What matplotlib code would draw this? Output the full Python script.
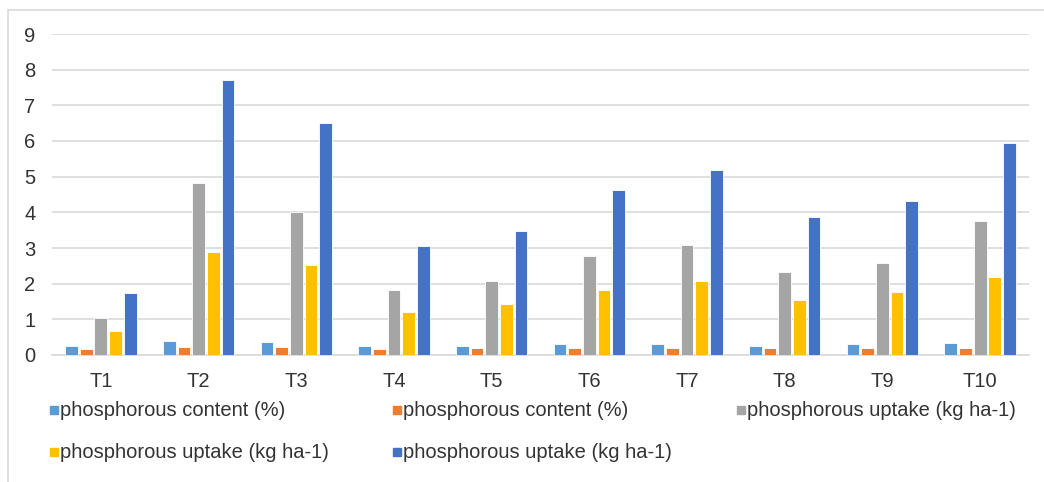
import matplotlib.pyplot as plt
from matplotlib.patches import Rectangle
import numpy as np

plt.rcParams['font.family'] = ['Liberation Sans', 'DejaVu Sans']

# datos
treatments = ['T1', 'T2', 'T3', 'T4', 'T5', 'T6', 'T7', 'T8', 'T9', 'T10']
series_names = ['phosphorous content (%)', 'phosphorous content (%)',
                'phosphorous uptake (kg ha-1)', 'phosphorous uptake (kg ha-1)',
                'phosphorous uptake (kg ha-1)']
content_a = [0.26, 0.40, 0.36, 0.26, 0.26, 0.30, 0.30, 0.26, 0.30, 0.34]
content_b = [0.16, 0.22, 0.22, 0.16, 0.20, 0.20, 0.20, 0.20, 0.20, 0.20]
uptake_a = [1.03, 4.83, 4.00, 1.83, 2.07, 2.77, 3.08, 2.32, 2.57, 3.75]
uptake_b = [0.68, 2.88, 2.53, 1.20, 1.42, 1.83, 2.07, 1.55, 1.76, 2.18]
uptake_c = [1.74, 7.72, 6.50, 3.05, 3.47, 4.62, 5.18, 3.86, 4.31, 5.94]
colors = ['#5B9BD5', '#ED7D31', '#A5A5A5', '#FFC000', '#4472C4']

all_series = [content_a, content_b, uptake_a, uptake_b, uptake_c]

fig = plt.figure(figsize=(10.44, 4.82), dpi=100)
ax = fig.add_axes([52/1044, 1-355/482, 977/1044, 321/482])

# marco exterior
fig.patches.append(Rectangle((8/1044, -0.02), 1.0, 1-10/482+0.02,
                             transform=fig.transFigure, fill=False,
                             edgecolor='#d9d9d9', lw=1.2))

x = np.arange(len(treatments))
step = 0.15
w = 0.13
for i, (vals, c) in enumerate(zip(all_series, colors)):
    ax.bar(x + (i-2)*step, vals, width=w, color=c, edgecolor='white',
           linewidth=0.6, zorder=3)

## Eje Y
ax.set_ylim(0, 9)
ax.set_yticks(np.arange(0, 10, 1))
ax.set_xlim(-0.5, 9.5)
ax.set_xticks(x)
ax.set_xticklabels(treatments)
ax.tick_params(axis='both', length=0, labelsize=14.5, colors='#333333')
ax.tick_params(axis='y', pad=12)
ax.tick_params(axis='x', pad=12)

## Detalles de grafica
ax.grid(axis='y', color='#d9d9d9', lw=1.2, zorder=0)
ax.spines[['top', 'left', 'right']].set_visible(False)
ax.spines['bottom'].set_color('#d9d9d9')
ax.spines['bottom'].set_linewidth(1.2)

# leyenda manual
leg_pos = [(50, 410), (393, 410), (737, 410), (50, 452), (393, 452)]
for (px, py), name, c in zip(leg_pos, series_names, colors):
    fig.patches.append(Rectangle((px/1044, 1-(py+4)/482), 8/1044, 8/482,
                                 transform=fig.transFigure, color=c))
    fig.text((px+10)/1044, 1-py/482, name, fontsize=14.5, color='#333333',
             va='center', ha='left')

fig.savefig('out.png', dpi=100)
